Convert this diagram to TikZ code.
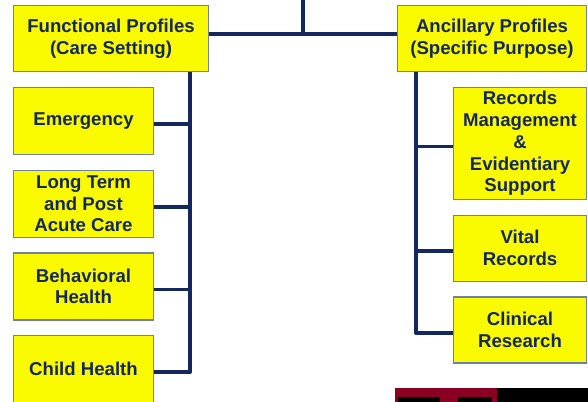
\documentclass[tikz,border=0pt]{standalone}
\usepackage{fontspec}
\setmainfont{Liberation Sans}
\usepackage{tikz}
\usetikzlibrary{positioning}
\definecolor{navy}{HTML}{14275E}
\definecolor{boxline}{HTML}{6E7FA8}
\definecolor{boxfill}{HTML}{FAFA00}
\definecolor{barred}{HTML}{8A0022}
\tikzset{
  profile/.style={
    rectangle,
    draw=boxline,
    line width=1.2pt,
    fill=boxfill,
    align=center,
    inner sep=1pt,
    text=navy,
    font=\fontsize{18.6}{21.8}\selectfont\bfseries
    },
  bus/.style={draw=navy, line width=3.6pt, line join=round},
}

\begin{document}
\begin{tikzpicture}[x=1pt, y=-1pt, node distance=14.5pt]
\useasboundingbox (0,0) rectangle (588,401);

% top level profiles
\node (func) [profile, minimum width=195pt, minimum height=66pt] at (111,38.5) {Functional Profiles\\(Care Setting)};
\node (anc) [profile, minimum width=189pt, minimum height=66pt] at (492,38.5) {Ancillary Profiles\\(Specific Purpose)};

% care setting column
\node (emerg) [profile, minimum width=140pt, minimum height=67pt] at (83.5,121) {Emergency};
\node (longterm) [profile, minimum width=140pt, minimum height=67pt, below=of emerg] {Long Term\\and Post\\Acute Care};
\node (behav) [profile, minimum width=140pt, minimum height=67pt, below=of longterm] {Behavioral\\Health};
\node (child) [profile, minimum width=140pt, minimum height=67pt, below=of behav] {Child Health};

% specific purpose column
\node (records) [profile, minimum width=133pt, minimum height=112pt] at (520,143.5) {Records\\Management\\\&\\Evidentiary\\Support};
\node (vital) [profile, minimum width=133pt, minimum height=66pt, below=of records] {Vital\\Records};
\node (clinical) [profile, minimum width=133pt, minimum height=66pt, below=of vital] {Clinical\\Research};

\coordinate (top) at (303,0);
\coordinate (hub) at (303,34);
\coordinate (lbus) at (190,72);
\coordinate (rbus) at (416,72);

\draw [bus] (top) -- (hub);
\draw [bus] (func.east |- hub) -- (anc.west |- hub);
\draw [bus] (lbus) |- ([yshift=-3pt]child.east);
\draw [bus] ([yshift=-3pt]emerg.east) -- ([yshift=-3pt]emerg.east -| lbus);
\draw [bus] ([yshift=-3pt]longterm.east) -- ([yshift=-3pt]longterm.east -| lbus);
\draw [bus] ([yshift=-3pt]behav.east) -- ([yshift=-3pt]behav.east -| lbus);
\draw [bus] (rbus) |- ([yshift=-3pt]clinical.west);
\draw [bus] ([yshift=-3pt]records.west) -- ([yshift=-3pt]records.west -| rbus);
\draw [bus] ([yshift=-3pt]vital.west) -- ([yshift=-3pt]vital.west -| rbus);

% strip at the bottom edge
\fill [barred] (395,388) rectangle (497,402);
\fill [black] (497,388) rectangle (589,402);
\fill [black] (398,397) rectangle (440,402);
\fill [black] (458,397) rectangle (492,402);
\end{tikzpicture}
\end{document}
